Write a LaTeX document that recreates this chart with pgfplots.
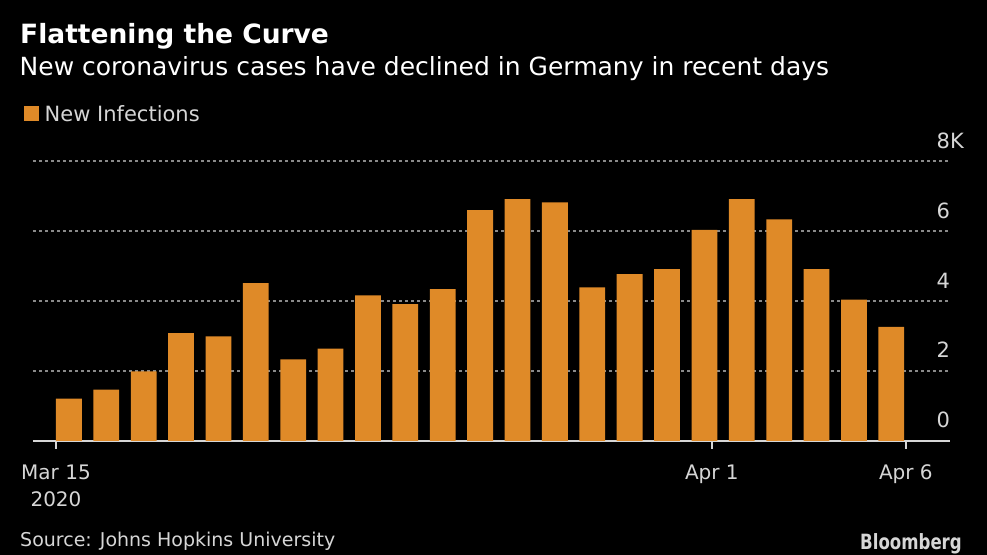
\documentclass[border=0pt]{standalone}
\usepackage{pgfplots}
\pgfplotsset{compat=1.18}
\usepackage{fontspec}
\setmainfont{DejaVu Sans}
\definecolor{barorange}{HTML}{DF8A28}
\definecolor{txtgray}{HTML}{D6D6D6}
\definecolor{gridgray}{HTML}{8A8A8A}
\begin{document}
\begin{tikzpicture}
\useasboundingbox (0bp,0bp) rectangle (987bp,555bp);
\fill[black] (0bp,0bp) rectangle (987bp,555bp);
\node[anchor=base west, inner sep=0pt, text=white, font=\fontsize{26.5bp}{30bp}\selectfont\bfseries] at (20bp,511bp) {Flattening the Curve};
\node[anchor=base west, inner sep=0pt, text=white, font=\fontsize{25bp}{30bp}\selectfont] at (19.5bp,479bp) {New coronavirus cases have declined in Germany in recent days};
\node[anchor=base west, inner sep=0pt, text=txtgray, font=\fontsize{19bp}{22bp}\selectfont] at (20bp,8.3bp) {Source: Johns Hopkins University};
\node[anchor=base west, inner sep=0pt, text=txtgray, font=\fontsize{21bp}{24bp}\selectfont\bfseries] at (860bp,6bp) {\scalebox{0.79}[1]{Bloomberg}};
\begin{axis}[
  at={(33bp,114bp)}, anchor=south west,
  scale only axis, width=917bp, height=280bp,
  xmin=-0.96, xmax=23.57, ymin=0, ymax=8,
  axis x line*=bottom, axis y line*=right,
  separate axis lines,
  axis line style={-},
  x axis line style={draw=txtgray, line width=1.5bp},
  y axis line style={draw=none},
  xtick={-0.345,17.20,22.39},
  xticklabels={{Mar 15\\2020},{Apr 1},{Apr 6}},
  xtick align=outside,
  major tick length=8bp,
  xtick style={draw=txtgray, line width=1.5bp},
  xticklabel style={align=center, anchor=north, inner sep=0pt, yshift=-15.4bp, text=txtgray, font=\fontsize{20bp}{27.7bp}\selectfont},
  ytick={2,4,6,8}, yticklabels={2,4,6,8K},
  extra y ticks={0}, extra y tick labels={0},
  extra y tick style={grid=none},
  ymajorgrids,
  grid style={gridgray, line width=1.5bp, dash pattern=on 2.5bp off 3.5bp},
  ytick style={draw=none},
  ytick align=inside,
  yticklabel pos=right,
  yticklabel style={anchor=base west, inner sep=0pt, xshift=-13.5bp, yshift=13bp, text=txtgray, font=\fontsize{21bp}{24bp}\selectfont},
  /pgf/number format/assume math mode=true,
  legend style={at={(axis description cs:-0.0098,1.1679)}, anchor=west, draw=none, fill=none, inner sep=0pt, outer sep=0pt, column sep=5.7bp, font=\fontsize{21bp}{24bp}\selectfont, text=txtgray, nodes={inner sep=0pt, anchor=base west}},
  clip=false,
]
\addplot[ybar, bar width=0.69, fill=barorange, draw=none,
  legend image code/.code={\fill[barorange] (0bp,0bp) rectangle (15bp,15bp);}]
  coordinates {
  (0,1.21) (1,1.47) (2,1.99) (3,3.08) (4,2.99) (5,4.51) (6,2.33) (7,2.64)
  (8,4.16) (9,3.91) (10,4.34) (11,6.60) (12,6.91) (13,6.82) (14,4.39)
  (15,4.77) (16,4.91) (17,6.03) (18,6.91) (19,6.33) (20,4.91) (21,4.04) (22,3.26)
  };
\addlegendentry{New Infections}
\end{axis}
\end{tikzpicture}
\end{document}
